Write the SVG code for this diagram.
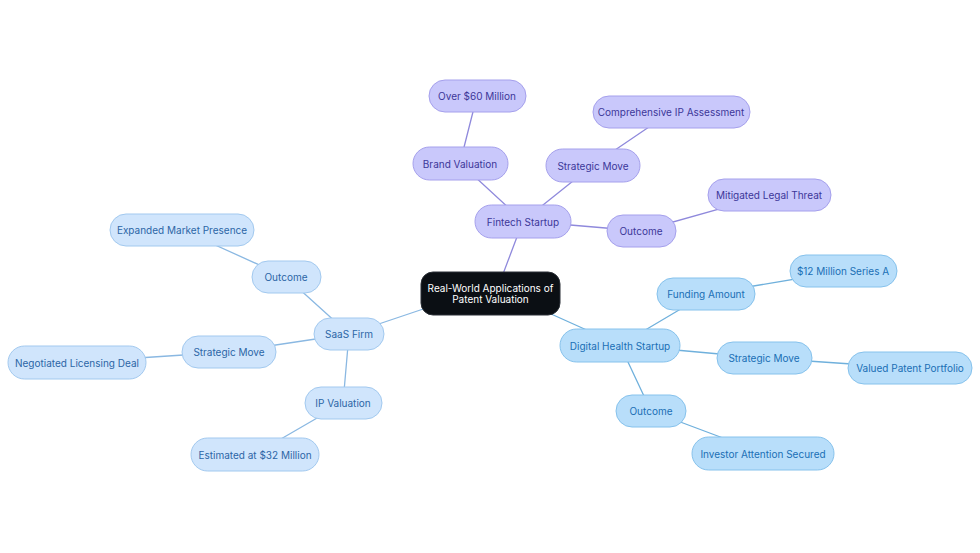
<svg xmlns="http://www.w3.org/2000/svg" width="980" height="553" viewBox="0 0 980 553">
<style>
text{font-family:Inter,"Liberation Sans",sans-serif;font-size:10px;text-anchor:middle;dominant-baseline:central}
.p rect{fill:#c9c8fb;stroke:#a5a0ec;stroke-width:1}
.p text{fill:#3c3799}
.d rect{fill:#b8defa;stroke:#86c2ec;stroke-width:1}
.d text{fill:#1a6fb5}
.s rect{fill:#d0e5fc;stroke:#a2c9ef;stroke-width:1}
.s text{fill:#2c66a6}
.ep{stroke:#8f89dc;stroke-width:1.3;fill:none}
.ed{stroke:#6fb0dc;stroke-width:1.3;fill:none}
.es{stroke:#8ab8e2;stroke-width:1.3;fill:none}
</style>
<rect width="980" height="553" fill="#fff"/>
<g id="connectors">
<path class="ep" d="M500,282L523,221M523,221L460,163M460,163L477,96M523,221L593,165M593,165L671,112M523,221L641,231M641,231L769,195"/>
<path class="ed" d="M520,300L620,345M620,345L706,294M706,294L843,271M620,345L764,358M764,358L910,368M620,345L651,411M651,411L763,453"/>
<path class="es" d="M450,300L349,334M349,334L286,277M286,277L182,230M349,334L229,352M229,352L77,362M349,334L343,403M343,403L255,454"/>
</g>
<g id="root"><rect x="421" y="272" width="139" height="43" rx="12" fill="#0b0f14" stroke="#2a2f36"/><text x="490.5" y="288" fill="#fff">Real-World Applications of</text><text x="490.5" y="299" fill="#fff">Patent Valuation</text></g>
<g id="fintech" class="p"><rect x="475" y="205" width="96" height="33" rx="16.5"/><text x="523" y="221.5">Fintech Startup</text></g>
<g id="brand" class="p"><rect x="413" y="147" width="95" height="33" rx="16.5"/><text x="460" y="163.5">Brand Valuation</text></g>
<g id="over60" class="p"><rect x="429" y="80" width="97" height="32" rx="16"/><text x="477" y="96">Over $60 Million</text></g>
<g id="fstrat" class="p"><rect x="546" y="149" width="94" height="33" rx="16.5"/><text x="593" y="165.5">Strategic Move</text></g>
<g id="comp" class="p"><rect x="593" y="96" width="157" height="32" rx="16"/><text x="671" y="112">Comprehensive IP Assessment</text></g>
<g id="fout" class="p"><rect x="607" y="215" width="69" height="32" rx="16"/><text x="641" y="231">Outcome</text></g>
<g id="mitig" class="p"><rect x="708" y="179" width="123" height="32" rx="16"/><text x="769" y="195">Mitigated Legal Threat</text></g>
<g id="digital" class="d"><rect x="560" y="329" width="120" height="33" rx="16.5"/><text x="620" y="345.5">Digital Health Startup</text></g>
<g id="funding" class="d"><rect x="657" y="278" width="98" height="32" rx="16"/><text x="706" y="294">Funding Amount</text></g>
<g id="series" class="d"><rect x="790" y="255" width="107" height="32" rx="16"/><text x="843" y="271">$12 Million Series A</text></g>
<g id="dstrat" class="d"><rect x="717" y="342" width="95" height="32" rx="16"/><text x="764" y="358">Strategic Move</text></g>
<g id="valued" class="d"><rect x="848" y="352" width="124" height="32" rx="16"/><text x="910" y="368">Valued Patent Portfolio</text></g>
<g id="dout" class="d"><rect x="616" y="395" width="70" height="32" rx="16"/><text x="651" y="411">Outcome</text></g>
<g id="investor" class="d"><rect x="692" y="437" width="142" height="33" rx="16.5"/><text x="763" y="453.5">Investor Attention Secured</text></g>
<g id="saas" class="s"><rect x="314" y="318" width="70" height="32" rx="16"/><text x="349" y="334">SaaS Firm</text></g>
<g id="sout" class="s"><rect x="252" y="261" width="69" height="32" rx="16"/><text x="286" y="277">Outcome</text></g>
<g id="expanded" class="s"><rect x="110" y="214" width="144" height="32" rx="16"/><text x="182" y="230">Expanded Market Presence</text></g>
<g id="sstrat" class="s"><rect x="182" y="336" width="94" height="32" rx="16"/><text x="229" y="352">Strategic Move</text></g>
<g id="negot" class="s"><rect x="8" y="346" width="138" height="33" rx="16.5"/><text x="77" y="362.5">Negotiated Licensing Deal</text></g>
<g id="ipval" class="s"><rect x="305" y="387" width="77" height="32" rx="16"/><text x="343" y="403">IP Valuation</text></g>
<g id="est" class="s"><rect x="191" y="438" width="128" height="33" rx="16.5"/><text x="255" y="454.5">Estimated at $32 Million</text></g>
</svg>
